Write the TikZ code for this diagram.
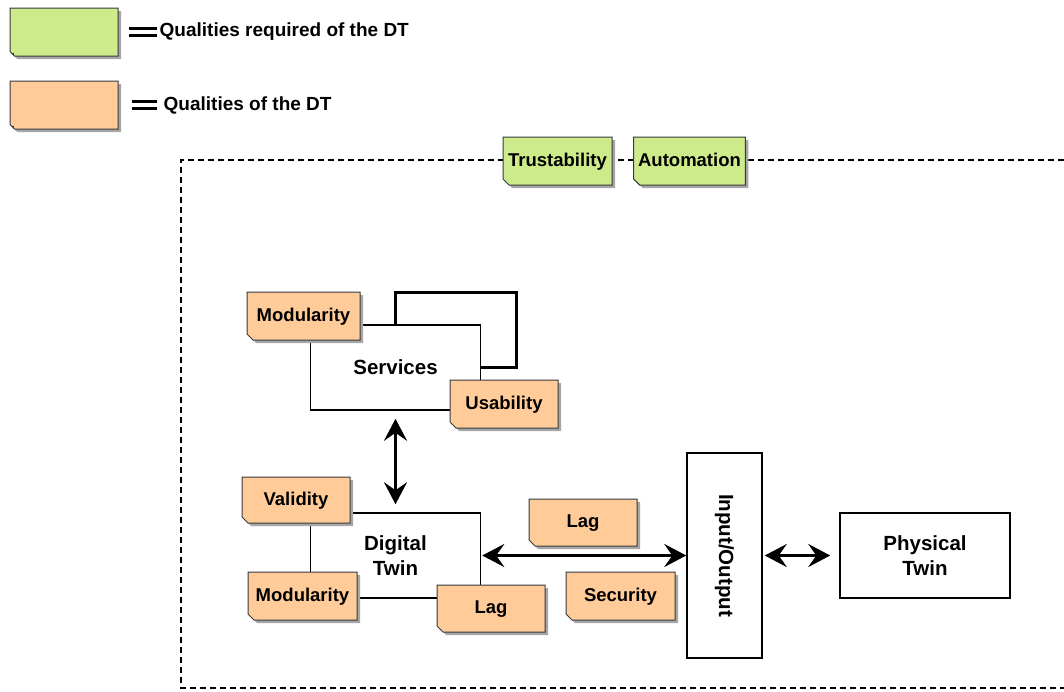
\documentclass[tikz,border=0pt]{standalone}
\usepackage{fontspec}
\setmainfont{Liberation Sans}
\usetikzlibrary{arrows.meta,shapes.misc,shadows,positioning}

\definecolor{reqgreen}{HTML}{CDEB8B}
\definecolor{dtorange}{HTML}{FFCC99}
\definecolor{notegray}{HTML}{36393D}

\begin{document}
\begin{tikzpicture}[x=1pt,y=-1pt,font=\fontsize{18.5}{23}\selectfont\bfseries]
    \tikzstyle{quality}=[
        shape=chamfered rectangle,
        chamfered rectangle corners=south west,
        chamfered rectangle xsep=2.5pt,
        draw=notegray,
        line width=1pt,
        inner sep=2pt,
        text depth=.2em,
        minimum width=108pt,
        minimum height=48pt,
        drop shadow={shadow xshift=3pt,shadow yshift=-3pt,fill=black!35,opacity=1},
        path picture={\draw[notegray,line width=.6pt,fill=black!20]
            ([yshift=3pt]path picture bounding box.south west) -- ++(3pt,0pt) -- ++(0pt,-3pt);}]
    \tikzstyle{required}=[quality,fill=reqgreen]
    \tikzstyle{owned}=[quality,fill=dtorange]
    \tikzstyle{block}=[draw,line width=1.5pt,fill=white,
        minimum width=170pt,minimum height=85pt,align=center,
        font=\fontsize{20.5}{25}\selectfont\bfseries]
    \tikzstyle{link}=[line width=3pt,
        {Stealth[length=22pt,width=23pt,inset=8pt]}-{Stealth[length=22pt,width=23pt,inset=8pt]}]

    \useasboundingbox (0,0) rectangle (1064,691);

    % legend
    \node[required] (legG) at (64,32) {};
    \node[owned] (legO) at (64,105) {};
    \draw[line width=3pt] (legG.east) ++(10,-3.5) -- ++(28,0) ++(-28,7) -- ++(28,0);
    \draw[line width=3pt] (legO.east) ++(13,-4) -- ++(25,0) ++(-25,7) -- ++(25,0);
    \node[right=41pt of legG,anchor=west,inner sep=0pt,font=\fontsize{19}{23}\selectfont\bfseries] (legGtext) {Qualities required of the DT};
    \node[right=45pt of legO,anchor=west,inner sep=0pt,font=\fontsize{19}{23}\selectfont\bfseries] (legOtext) {Qualities of the DT};

    % system boundary
    \coordinate (frameTR) at (1064,160);
    \coordinate (frameTL) at (181,160);
    \coordinate (frameBL) at (181,688);
    \coordinate (frameBR) at (1064,688);
    \draw[line width=1.5pt,dash pattern=on 6pt off 4pt]
        (frameTR) -- (frameTL) -- (frameBL) -- (frameBR);

    \node[required,minimum width=109pt] (trust) at (557.5,161) {Trustability};
    \node[required,minimum width=109pt] (autom) at (689.5,161) {Automation};

    % main blocks
    \node[block] (serv) at (395.5,367.5) {Services};
    \node[block] (dt) at (395.5,555.5) {Digital\\Twin};
    \node[block,minimum width=75pt,minimum height=205pt,
        label={[rotate=-90,font=\fontsize{20.5}{25}\selectfont\bfseries]center:Input/Output}] (io) at (724.5,555.5) {};
    \node[block] (phys) at (925,555.5) {Physical\\Twin};

    \draw[line width=3pt] (serv.north) -- ++(0,-32) -| ([xshift=35pt]serv.east) -- (serv.east);

    \path (serv.south) edge[link,shorten <=8pt,shorten >=8pt] (dt.north)
          (dt.east) edge[link,shorten <=1pt] (io.west)
          (io.east) edge[link,shorten <=2pt,shorten >=9pt] (phys.west);

    % qualities of the DT
    \node[owned,minimum width=113pt] (servMod) at (303.5,316) {Modularity};
    \node[owned] (servUse) at (504,404) {Usability};
    \node[owned,minimum height=46pt] (dtValid) at (296,500) {Validity};
    \node[owned,minimum width=109pt] (dtMod) at (302.5,596) {Modularity};
    \node[owned,minimum height=47pt] (dtLag) at (491,608.5) {Lag};
    \node[owned,minimum height=47pt] (ioLag) at (583,522.5) {Lag};
    \node[owned,minimum width=109pt] (ioSec) at (620.5,596) {Security};
\end{tikzpicture}
\end{document}
